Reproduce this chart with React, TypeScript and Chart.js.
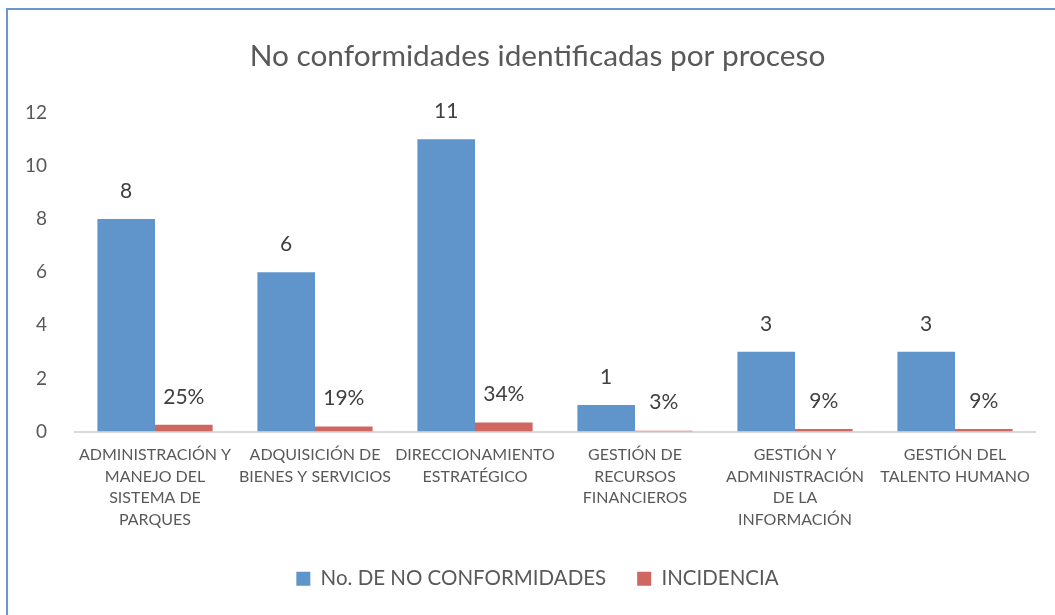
import React, { useEffect, useRef } from "react";
import { Chart, registerables } from "chart.js";

Chart.register(...registerables);

const TITLE = "No conformidades identificadas por proceso";
const CATEGORIES: string[][] = [
  ["ADMINISTRACIÓN Y", "MANEJO DEL", "SISTEMA DE", "PARQUES"],
  ["ADQUISICIÓN DE", "BIENES Y SERVICIOS"],
  ["DIRECCIONAMIENTO", "ESTRATÉGICO"],
  ["GESTIÓN DE", "RECURSOS", "FINANCIEROS"],
  ["GESTIÓN Y", "ADMINISTRACIÓN", "DE LA", "INFORMACIÓN"],
  ["GESTIÓN DEL", "TALENTO HUMANO"],
];
const SERIES_NAMES = ["No. DE NO CONFORMIDADES", "INCIDENCIA"];
const NO_CONFORMIDADES = [8, 6, 11, 1, 3, 3];
const INCIDENCIA = [0.25, 0.19, 0.34, 0.03, 0.09, 0.09];
const Y_MIN = 0;
const Y_MAX = 12;
const Y_STEP = 2;

const FONT = "Lato, 'Open Sans', sans-serif";

const dataLabels = {
  id: "dataLabels",
  afterDatasetsDraw(chart: any) {
    const ctx = chart.ctx;
    ctx.save();
    ctx.font = `21px ${FONT}`;
    ctx.fillStyle = "#404040";
    ctx.textAlign = "center";
    ctx.textBaseline = "middle";
    chart.data.datasets.forEach((ds: any, di: number) => {
      const meta = chart.getDatasetMeta(di);
      meta.data.forEach((el: any, i: number) => {
        const v = ds.data[i];
        const txt = di === 1 ? `${Math.round(v * 100)}%` : String(v);
        ctx.fillText(txt, el.x, el.y - 28);
      });
    });
    ctx.restore();
  },
};

export default function App() {
  const ref = useRef<HTMLCanvasElement | null>(null);
  useEffect(() => {
    if (!ref.current) return;
    const chart = new Chart(ref.current, {
      type: "bar",
      data: {
        labels: CATEGORIES,
        datasets: [
          {
            label: SERIES_NAMES[0],
            data: NO_CONFORMIDADES,
            backgroundColor: "#6095CB",
            categoryPercentage: 0.72,
            barPercentage: 1,
            yAxisID: "y",
          },
          {
            label: SERIES_NAMES[1],
            data: INCIDENCIA,
            backgroundColor: "#CF6660",
            categoryPercentage: 0.72,
            barPercentage: 1,
            yAxisID: "y",
          },
        ],
      },
      options: {
        animation: false,
        responsive: false,
        layout: { padding: { left: 20, right: 0, top: 0, bottom: 16 } },
        plugins: {
          title: {
            display: true,
            text: TITLE,
            color: "#595959",
            font: { family: FONT, size: 29.8, weight: "normal" },
            padding: { top: 39, bottom: 38 },
          },
          legend: {
            position: "bottom",
            labels: {
              color: "#595959",
              font: { family: FONT, size: 20.5 },
              boxWidth: 14,
              boxHeight: 14,
              padding: 10,
              generateLabels: (c: any) =>
                Chart.defaults.plugins.legend.labels
                  .generateLabels(c)
                  .map((l: any, i: number, arr: any[]) =>
                    i < arr.length - 1 ? { ...l, text: l.text + "    " } : l
                  ),
            },
          },
          tooltip: { enabled: false },
        },
        scales: {
          x: {
            grid: { display: true, drawOnChartArea: false, drawTicks: false },
            border: { display: true, color: "#d9d9d9", width: 2 },
            ticks: {
              color: "#595959",
              font: { family: FONT, size: 16, lineHeight: 1.34 },
              padding: 13,
              maxRotation: 0,
              autoSkip: false,
            },
            afterFit: (s: any) => {
              s.height = 127;
            },
          },
          y: {
            position: "left",
            min: Y_MIN,
            max: Y_MAX,
            ticks: {
              stepSize: Y_STEP,
              color: "#595959",
              font: { family: FONT, size: 19 },
              padding: 28,
            },
            grid: { display: false, drawTicks: false },
            border: { display: false },
            afterFit: (s: any) => {
              s.width = 55;
            },
          },
          yRight: {
            position: "right",
            display: true,
            min: Y_MIN,
            max: Y_MAX,
            ticks: { display: false },
            grid: { display: false, drawTicks: false },
            border: { display: false },
            afterFit: (s: any) => {
              s.width = 20;
            },
          },
        },
      },
      plugins: [dataLabels],
    });
    return () => chart.destroy();
  }, []);

  return (
    <div style={{ position: "fixed", left: 0, top: 0, width: 1055, height: 615, background: "#fff", overflow: "hidden" }}>
      <div
        style={{
          position: "absolute",
          left: 6,
          top: 8,
          width: 1200,
          height: 800,
          borderLeft: "2px solid #6A98CE",
          borderTop: "2px solid #6A98CE",
        }}
      />
      <canvas ref={ref} width={1055} height={615} style={{ position: "absolute", left: 0, top: 0, display: "block" }} />
    </div>
  );
}
